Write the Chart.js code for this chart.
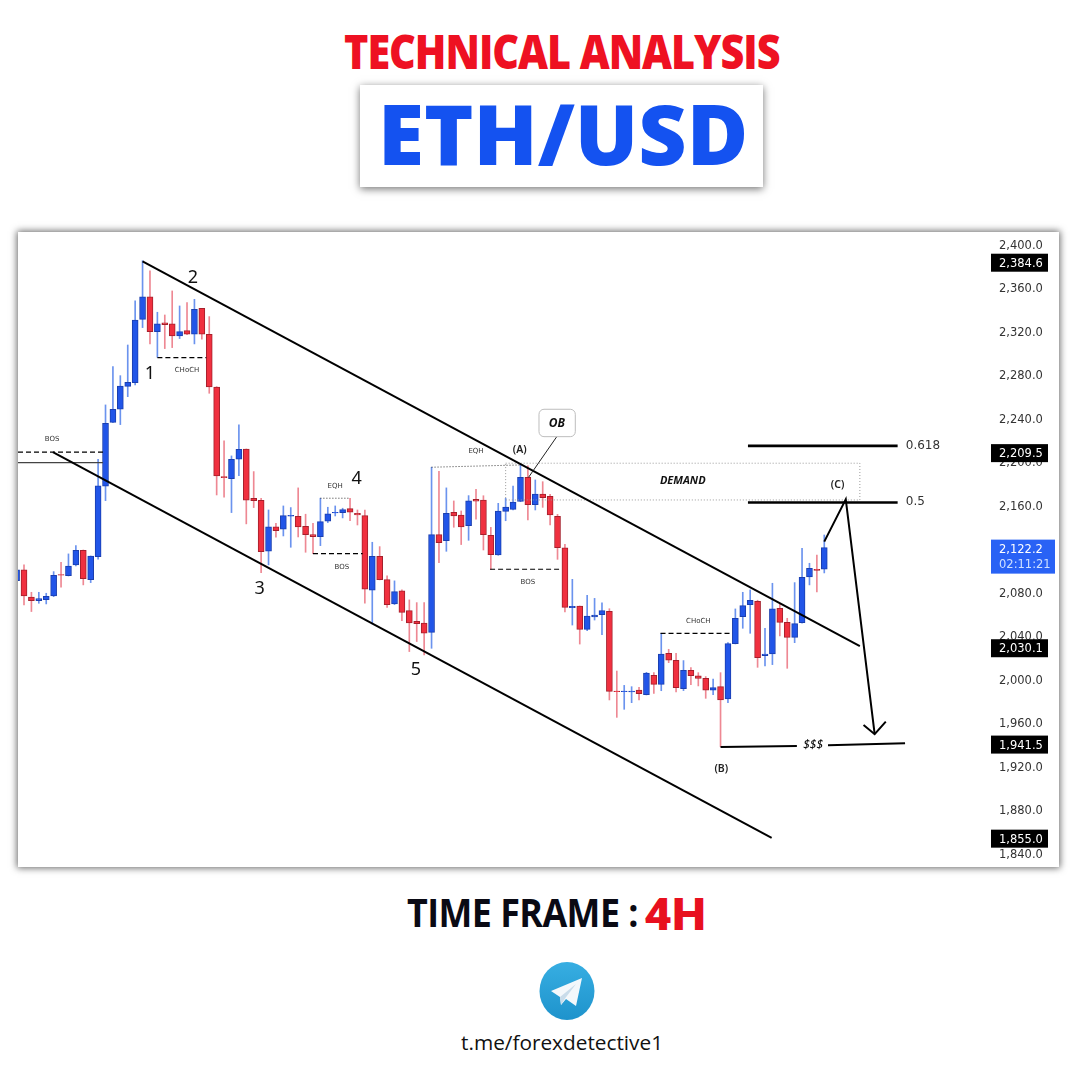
<!DOCTYPE html>
<html>
<head>
<meta charset="utf-8">
<title>ETH/USD</title>
<script src="https://cdn.jsdelivr.net/npm/chart.js@4"></script>
<style>
    html, body { margin: 0; padding: 0; background: #fff; }
    body { position: relative; width: 1080px; height: 1080px; overflow: hidden; font-family: "Open Sans", sans-serif; }
    .abs { position: absolute; white-space: nowrap; line-height: 1; }
    #heading { left: 344px; top: 28px; font-size: 47px; font-weight: 800; color: #ee1122; letter-spacing: -1.2px; transform: scaleX(.88); transform-origin: left center; }
    #pairBox { left: 360px; top: 85px; width: 403px; height: 102px; background: #fff; box-shadow: 0 2px 8px rgba(0,0,0,.55); }
    #pair { left: 378px; top: 91px; font-size: 83px; font-weight: 800; color: #1452f0; transform: scaleX(1.01); transform-origin: left center; }
    #panel { left: 18px; top: 232px; width: 1041px; height: 635px; background: #fff; box-shadow: 0 0 7px 1px rgba(0,0,0,.6); }
    #frame { left: 407px; top: 892px; font-size: 39px; font-weight: 700; color: #0a0a14; letter-spacing: -.6px; transform: scaleX(.92); transform-origin: left center; }
    #frameValue { left: 644px; top: 892px; font-size: 45px; font-weight: 900; color: #e8101e; font-family: Roboto, sans-serif; transform: scaleX(1.07); transform-origin: left center; }
    #logo { left: 539px; top: 962px; width: 56px; height: 58px; }
    #link { left: 461px; top: 1032px; font-size: 20.8px; color: #111; }
</style>
</head>
<body>
<div id="heading" class="abs">TECHNICAL ANALYSIS</div>
<div id="pairBox" class="abs"></div>
<div id="pair" class="abs">ETH/USD</div>
<div id="panel" class="abs"><canvas id="chart" width="1041" height="635"></canvas></div>
<div id="frame" class="abs">TIME FRAME :</div>
<div id="frameValue" class="abs">4H</div>
<svg id="logo" class="abs" viewBox="0 0 56 58">
    <defs>
        <linearGradient id="tg" x1="0" y1="0" x2="0" y2="1">
            <stop offset="0" stop-color="#37aee2"/>
            <stop offset="1" stop-color="#1e93cc"/>
        </linearGradient>
    </defs>
    <ellipse cx="28" cy="29" rx="27.5" ry="29" fill="url(#tg)"/>
    <path d="M12 29 L43 16 L37 44 L27 37 L22 43 L21 35 Z" fill="#f4f8fb"/>
    <path d="M21 35 L37 22 L26 36.5 L22 43 Z" fill="#c9dcea"/>
</svg>
<div id="link" class="abs">t.me/forexdetective1</div>

<script>
// Candle values (oldest first)
const opens = [
    2090.5, 2100.3, 2075.4, 2072.1, 2073.0, 2076.3, 2096.0, 2095.0, 2104.9, 2118.3,
    2091.4, 2112.5, 2177.2, 2236.0, 2248.0, 2269.1, 2272.5, 2330.7, 2351.3, 2319.4,
    2327.4, 2326.5, 2315.4, 2320.3, 2317.0, 2340.9, 2317.0, 2268.5, 2186.1, 2184.2,
    2202.0, 2211.5, 2166.2, 2164.3, 2117.4, 2139.8, 2137.7, 2149.6, 2149.6, 2140.4,
    2132.8, 2130.9, 2145.0, 2152.7, 2153.0, 2156.7, 2152.4, 2150.2, 2081.6, 2112.8,
    2091.4, 2069.0, 2081.0, 2062.9, 2053.1, 2051.5, 2042.9, 2132.8, 2127.2, 2153.3,
    2150.8, 2141.0, 2165.2, 2164.6, 2132.1, 2114.0, 2154.1, 2156.0, 2163.3, 2185.4,
    2160.3, 2170.1, 2167.9, 2149.5, 2120.7, 2065.6, 2067.1, 2045.6, 2057.0, 2059.1,
    2062.2, 1988.9, 1988.3, 1988.0, 1989.8, 1985.6, 2003.3, 1995.1, 2023.6, 2017.2,
    1991.1, 2008.0, 2002.8, 2000.6, 1989.6, 1993.0, 1981.6, 2032.5, 2057.3, 2068.4,
    2071.4, 2021.5, 2023.0, 2065.0, 2052.1, 2038.3, 2051.8, 2093.8, 2100.9, 2100.9
];
const closes = [
    2100.3, 2076.3, 2072.1, 2073.9, 2076.0, 2095.4, 2095.4, 2103.9, 2118.3, 2092.3,
    2113.1, 2177.5, 2235.1, 2248.0, 2269.4, 2272.8, 2330.1, 2351.3, 2319.4, 2326.5,
    2325.8, 2315.4, 2319.4, 2317.0, 2339.9, 2317.0, 2268.5, 2186.7, 2185.2, 2202.0,
    2211.2, 2164.3, 2164.0, 2117.1, 2139.8, 2136.4, 2150.2, 2150.5, 2139.8, 2132.8,
    2130.9, 2144.7, 2151.8, 2153.3, 2155.7, 2153.3, 2150.8, 2082.5, 2112.8, 2091.4,
    2068.4, 2080.3, 2061.3, 2051.5, 2050.9, 2042.0, 2132.8, 2125.4, 2152.4, 2149.9,
    2139.8, 2163.7, 2163.4, 2132.7, 2114.3, 2154.4, 2158.1, 2162.7, 2185.4, 2160.3,
    2170.1, 2166.7, 2150.8, 2120.7, 2065.9, 2066.8, 2045.6, 2057.9, 2058.8, 2062.8,
    1988.6, 1988.3, 1988.9, 1988.9, 1986.5, 2005.5, 1995.1, 2023.0, 2017.2, 1992.0,
    2008.0, 2003.1, 2000.6, 1989.6, 1992.0, 1980.7, 2032.5, 2055.8, 2067.4, 2072.4,
    2019.6, 2023.0, 2064.4, 2052.1, 2038.3, 2050.9, 2093.5, 2101.8, 2099.9, 2120.8
];
const highs = [
    2103.3, 2104.9, 2079.7, 2079.7, 2078.8, 2098.7, 2107.3, 2115.0, 2122.6, 2118.6,
    2113.1, 2202.0, 2252.0, 2287.2, 2278.9, 2307.1, 2347.6, 2384.6, 2375.2, 2337.2,
    2334.7, 2356.8, 2343.0, 2346.1, 2349.1, 2340.9, 2333.2, 2268.8, 2218.9, 2205.1,
    2233.6, 2211.5, 2190.7, 2166.2, 2155.4, 2143.2, 2159.1, 2157.6, 2175.7, 2151.5,
    2143.2, 2166.2, 2157.9, 2159.1, 2157.0, 2166.2, 2155.4, 2155.4, 2125.7, 2121.7,
    2094.8, 2090.2, 2081.9, 2072.7, 2070.2, 2070.2, 2194.7, 2191.0, 2175.7, 2163.7,
    2154.5, 2168.6, 2174.4, 2168.5, 2139.4, 2161.5, 2166.1, 2177.4, 2196.7, 2196.1,
    2183.0, 2181.4, 2169.8, 2151.4, 2123.8, 2091.6, 2067.1, 2076.9, 2074.1, 2070.1,
    2064.6, 2007.3, 1994.1, 1992.9, 1992.3, 2006.1, 2005.8, 2042.0, 2027.3, 2023.6,
    2016.9, 2010.4, 2005.8, 2002.2, 2000.0, 2005.8, 2033.4, 2064.4, 2079.7, 2081.9,
    2072.4, 2046.6, 2088.0, 2069.0, 2055.8, 2088.6, 2120.2, 2106.4, 2114.0, 2132.4
];
const lows = [
    2086.5, 2068.1, 2062.0, 2069.6, 2069.0, 2075.7, 2084.3, 2094.7, 2104.0, 2086.5,
    2088.6, 2110.1, 2164.0, 2235.7, 2233.9, 2259.6, 2270.4, 2323.1, 2308.1, 2295.8,
    2303.8, 2304.7, 2313.0, 2316.6, 2308.1, 2312.4, 2262.7, 2169.2, 2167.1, 2153.0,
    2187.0, 2142.6, 2157.6, 2097.8, 2104.9, 2130.3, 2131.5, 2121.1, 2130.6, 2116.5,
    2115.3, 2122.6, 2143.8, 2149.9, 2148.1, 2145.6, 2141.6, 2069.6, 2050.6, 2091.1,
    2065.9, 2068.4, 2053.7, 2025.2, 2034.4, 2022.1, 2028.2, 2107.0, 2117.4, 2139.5,
    2123.6, 2127.5, 2146.9, 2118.6, 2100.8, 2113.7, 2145.5, 2155.4, 2163.0, 2146.2,
    2155.4, 2157.8, 2141.6, 2110.0, 2061.6, 2049.6, 2032.1, 2044.4, 2054.2, 2040.7,
    1980.7, 1964.7, 1972.1, 1978.2, 1980.7, 1985.3, 1986.8, 1989.2, 2015.0, 1988.1,
    1989.3, 1994.8, 1993.6, 1982.2, 1985.6, 1937.8, 1978.3, 2032.2, 2046.6, 2042.0,
    2010.7, 2012.0, 2013.2, 2039.6, 2009.8, 2033.4, 2051.2, 2086.5, 2080.0, 2097.5
];

// Price axis
const tickValues = [2400, 2360, 2320, 2280, 2240, 2200, 2160, 2120, 2080, 2040, 2000, 1960, 1920, 1880, 1840];
const hiddenTicks = [2120];
const blackTags = [2384.6, 2209.5, 2030.1, 1941.5, 1855.0];
const lastPrice = '2,122.2';
const lastPriceLevel = 2112.5;
const countdown = '02:11:21';

// Drawn lines, as [candle index, price] pairs
const channelLines = [
    [[17, 2384], [113.8, 2030.1]],
    [[4.9, 2208.5], [101.9, 1853.8]]
];
const fibLines = [
    [[98.7, 2214.3], [118.9, 2214.3]],
    [[98.7, 2162.2], [118.9, 2162.2]]
];
const waveLines = [
    [[109, 2126.3], [111.9, 2165.2], [115.8, 1949.2]],
    [[114.3, 1957.7], [115.8, 1949.2], [117.3, 1960.7]],
    [[95, 1937.5], [105.3, 1938.4]],
    [[109.5, 1939], [119.9, 1940.9]]
];
const dashedLines = [
    [[0.19, 2208.5], [11.66, 2208.5]],
    [[19, 2295.5], [25.6, 2295.5]],
    [[40, 2115.2], [46.7, 2115.2]],
    [[63.9, 2100.9], [73.6, 2100.9]],
    [[86.9, 2042], [96.6, 2042]]
];
const dottedLines = [
    [[41, 2166.2], [45, 2166.2]],
    [[56, 2194.7], [68, 2196.8]]
];
const breakLine = [[0.19, 2198.9], [11.66, 2198.9]];
const demandZone = [66, 113.8, 2198.4, 2164.6];
const obBox = [70.5, 75.4, 2248, 2222.8];
const obPointer = [[72.9, 2222.8], [69.1, 2185.5]];

// Text notes as [text, candle index, price]
const waveNotes = [['1', 18, 2281.4], ['2', 23.8, 2369.7], ['3', 32.8, 2083.7], ['4', 45.9, 2184.8], ['5', 53.9, 2009.2]];
const swingNotes = [['(A)', 67.9, 2211.5], ['(B)', 95.1, 1918.2], ['(C)', 110.8, 2179.3]];
const smallNotes = [
    ['BOS', 4.8, 2221.6], ['CHoCH', 23, 2285.1], ['EQH', 43, 2178.4], ['BOS', 43.9, 2103.9],
    ['EQH', 62, 2210.6], ['BOS', 69, 2090.1], ['CHoCH', 92, 2054.3]
];
const fibNotes = [['0.618', 120, 2215.2], ['0.5', 120, 2163.7]];

const upColor = '#2155e8';
const upBorder = '#1b3fae';
const upWick = '#6b93ee';
const downColor = '#f0303f';
const downBorder = '#a5202c';
const downWick = '#ee8893';

const candleIndex = opens.map((_, i) => i);
const isUp = i => closes[i] >= opens[i];

// Overlay drawing, everything goes through the chart scales
function tracePath(chart, points, style) {
    const { x, y } = chart.scales;
    const ctx = chart.ctx;
    ctx.save();
    ctx.strokeStyle = style.color || '#000';
    ctx.lineWidth = style.width || 1;
    ctx.setLineDash(style.dash || []);
    ctx.lineJoin = 'miter';
    ctx.beginPath();
    points.forEach((p, i) => {
        const px = x.getPixelForValue(p[0]);
        const py = y.getPixelForValue(p[1]);
        if (i === 0) ctx.moveTo(px, py); else ctx.lineTo(px, py);
    });
    ctx.stroke();
    ctx.restore();
}

function drawNotes(chart, notes, font, color, align) {
    const { x, y } = chart.scales;
    const ctx = chart.ctx;
    ctx.save();
    ctx.font = font;
    ctx.fillStyle = color;
    ctx.textAlign = align || 'center';
    ctx.textBaseline = 'middle';
    notes.forEach(n => ctx.fillText(n[0], x.getPixelForValue(n[1]), y.getPixelForValue(n[2]) + 1));
    ctx.restore();
}

function drawBox(chart, box, stroke, dash, radius) {
    const { x, y } = chart.scales;
    const ctx = chart.ctx;
    const left = x.getPixelForValue(box[0]);
    const right = x.getPixelForValue(box[1]);
    const top = y.getPixelForValue(box[2]);
    const bottom = y.getPixelForValue(box[3]);
    ctx.save();
    ctx.strokeStyle = stroke;
    ctx.setLineDash(dash);
    ctx.fillStyle = 'rgba(255,255,255,0.9)';
    ctx.beginPath();
    ctx.roundRect(left, top, right - left, bottom - top, radius);
    if (radius) ctx.fill();
    ctx.stroke();
    ctx.restore();
}

const overlayPlugin = {
    id: 'overlay',
    afterDatasetsDraw(chart) {
        drawBox(chart, demandZone, '#9a9a9a', [1, 2], 0);
        tracePath(chart, breakLine, { color: '#444', width: 1.3 });
        dashedLines.forEach(l => tracePath(chart, l, { width: 1.2, dash: [5, 3] }));
        dottedLines.forEach(l => tracePath(chart, l, { color: '#333', width: 1, dash: [1, 2] }));
        channelLines.forEach(l => tracePath(chart, l, { width: 2 }));
        fibLines.forEach(l => tracePath(chart, l, { width: 2.6 }));
        waveLines.forEach(l => tracePath(chart, l, { width: 2 }));
        tracePath(chart, obPointer, { color: '#222', width: 1 });
        drawBox(chart, obBox, '#bdbdbd', [], 5);

        drawNotes(chart, waveNotes, '18px "Noto Sans"', '#111');
        drawNotes(chart, swingNotes, '600 10.5px "Noto Sans"', '#222');
        drawNotes(chart, smallNotes, '7px "DejaVu Sans"', '#333');
        drawNotes(chart, fibNotes, '12px "DejaVu Sans"', '#333', 'left');
        drawNotes(chart, [['$$$', 107.5, 1939.3]], 'italic 500 12px "Noto Sans"', '#111');
        drawNotes(chart, [['DEMAND', 89.9, 2183]], 'italic 700 11px "Open Sans"', '#111');
        drawNotes(chart, [['OB', 72.9, 2235.4]], 'italic 700 12px "Open Sans"', '#111');
    },
    afterDraw(chart) {
        // Price tags sit on top of the axis labels
        const y = chart.scales.y;
        const ctx = chart.ctx;
        const tagLeft = chart.chartArea.right + 6;
        ctx.save();
        ctx.textBaseline = 'middle';
        ctx.font = '11.5px "DejaVu Sans"';
        blackTags.forEach(v => {
            const py = y.getPixelForValue(v) + 2;
            ctx.fillStyle = '#000';
            ctx.fillRect(tagLeft, py - 9, 57, 18);
            ctx.fillStyle = '#fff';
            ctx.fillText(v.toLocaleString('en-US', { minimumFractionDigits: 1 }), tagLeft + 8, py + 1);
        });
        const lastY = y.getPixelForValue(lastPriceLevel);
        ctx.fillStyle = '#2962f5';
        ctx.fillRect(tagLeft, lastY - 17, 64, 34);
        ctx.fillStyle = '#fff';
        ctx.fillText(lastPrice, tagLeft + 8, lastY - 7);
        ctx.fillStyle = '#cfe0ff';
        ctx.fillText(countdown, tagLeft + 8, lastY + 8);
        ctx.restore();
    }
};

new Chart(document.getElementById('chart').getContext('2d'), {
    type: 'bar',
    data: {
        datasets: [
            {
                label: 'Body',
                data: candleIndex.map(i => ({ x: i, y: [opens[i], closes[i]] })),
                backgroundColor: candleIndex.map(i => isUp(i) ? upColor : downColor),
                borderColor: candleIndex.map(i => isUp(i) ? upBorder : downBorder),
                borderWidth: 1,
                borderSkipped: false,
                barThickness: 6,
                grouped: false,
                order: 1
            },
            {
                label: 'Wick',
                data: candleIndex.map(i => ({ x: i, y: [lows[i], highs[i]] })),
                backgroundColor: candleIndex.map(i => isUp(i) ? upWick : downWick),
                borderWidth: 0,
                barThickness: 1,
                grouped: false,
                order: 2
            }
        ]
    },
    options: {
        responsive: false,
        animation: false,
        layout: { padding: 0, autoPadding: false },
        plugins: {
            legend: { display: false },
            tooltip: { enabled: false }
        },
        scales: {
            x: {
                type: 'linear',
                display: false,
                offset: false,
                min: 0.19,
                max: 130.69
            },
            y: {
                type: 'linear',
                position: 'right',
                offset: false,
                min: 1827.1,
                max: 2411,
                grid: { display: false },
                border: { display: false },
                afterBuildTicks: scale => {
                    scale.ticks = tickValues.map(value => ({ value }));
                },
                afterFit: scale => {
                    scale.width = 74;
                    scale.paddingTop = 0;
                    scale.paddingBottom = 0;
                    scale._margins = { left: 0, right: 0, top: 0, bottom: 0 };
                },
                ticks: {
                    padding: 6,
                    labelOffset: 2,
                    color: '#333',
                    font: { family: '"DejaVu Sans"', size: 11.5 },
                    autoSkip: false,
                    maxRotation: 0,
                    callback: value => hiddenTicks.includes(value) ? '' : value.toLocaleString('en-US', { minimumFractionDigits: 1 })
                }
            }
        }
    },
    plugins: [overlayPlugin]
});
</script>
</body>
</html>
